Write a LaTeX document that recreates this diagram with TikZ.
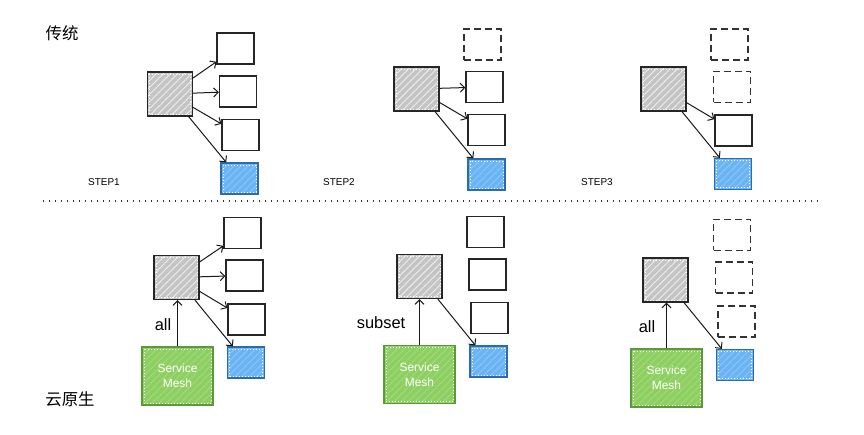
\documentclass[tikz,border=0pt]{standalone}
\usepackage{fontspec}
\setmainfont{Liberation Sans}
\newfontfamily\cjk{Noto Sans CJK SC}
\usetikzlibrary{patterns.meta,arrows.meta}

\definecolor{srvgray}{HTML}{C4C4C4}
\definecolor{tgtblue}{HTML}{6AB4F4}
\definecolor{tgtline}{HTML}{2D6CAB}
\definecolor{meshgreen}{HTML}{8DCF60}
\definecolor{meshline}{HTML}{5B9A3A}

\tikzset{
  hatch/.style={pattern={Lines[angle=45,distance=5bp,line width=0.9bp]}, pattern color=#1},
  rim/.style={path picture={\draw [white, line width=0.8bp, dash pattern=on 1bp off 2bp]
    ([shift={(2bp,-2bp)}]path picture bounding box.north west) rectangle
    ([shift={(-2bp,2bp)}]path picture bounding box.south east);}},
  srv/.style={draw=black!85, line width=1.3bp, preaction={fill=srvgray}, hatch=black!7, rim,
    minimum width=45bp, minimum height=44bp, inner sep=0pt},
  inst/.style={draw=black!85, line width=1.3bp, fill=white,
    minimum width=37bp, minimum height=31bp, inner sep=0pt},
  gone/.style={inst, draw=black!80, dash pattern=on 7bp off 4bp},
  tgt/.style={draw=tgtline, line width=1.3bp, preaction={fill=tgtblue}, hatch=white!22!tgtblue, rim,
    minimum width=37bp, minimum height=31bp, inner sep=0pt},
  mesh/.style={draw=meshline, line width=1.3bp, preaction={fill=meshgreen}, hatch=white!20!meshgreen, rim,
    minimum width=71bp, minimum height=58bp, inner sep=0pt, text=white, align=center,
    font=\fontsize{12}{15}\selectfont},
  call/.style={-{Straight Barb[length=4.5bp,width=9bp,line width=1bp]}, line width=1bp, black!90},
  steplbl/.style={font=\fontsize{10}{12}\selectfont},
  edgelbl/.style={font=\fontsize{16.5}{19}\selectfont},
  rowlbl/.style={font=\cjk\fontsize{16.5}{19}\selectfont}
}

\begin{document}
\begin{tikzpicture}[x=1bp,y=1bp]
\useasboundingbox (0,0) rectangle (864,-435);
% row titles
\node [rowlbl] (trad) at (62,-33) {传统};
\node [rowlbl] (cloud) at (70,-399) {云原生};
% separator
\draw [black!80, line width=1.3bp, dash pattern=on 1.3bp off 4.7bp] (43,-201) -- (822,-201);

% top row, step 1
\node [srv] (g1) at (170,-94) {};
\node [inst] (a1) at (235.5,-48.5) {};
\node [inst] (a2) at (238,-91.5) {};
\node [inst] (a3) at (240.5,-135) {};
\node [tgt] (b1) at (239.5,-178.5) {};
\node [steplbl] (s1) at (104,-182) {STEP1};
\draw [call] (g1) -- (a1);
\draw [call] (g1) -- (a2);
\draw [call] (g1) -- (a3);
\draw [call] (g1) -- (b1);

% top row, step 2
\node [srv] (g2) at (416.5,-89) {};
\node [gone] (c1) at (482.5,-44.5) {};
\node [inst] (c2) at (484.5,-87) {};
\node [inst] (c3) at (486.5,-130) {};
\node [tgt] (b2) at (486.5,-174.5) {};
\node [steplbl] (s2) at (339,-182) {STEP2};
\draw [call] (g2) -- (c2);
\draw [call] (g2) -- (c3);
\draw [call] (g2) -- (b2);

% top row, step 3
\node [srv] (g3) at (663.5,-89) {};
\node [gone] (d1) at (729.5,-44.5) {};
\node [gone] (d2) at (732,-87) {};
\node [inst] (d3) at (733.5,-130.5) {};
\node [tgt] (b3) at (733,-174) {};
\node [steplbl] (s3) at (597,-182) {STEP3};
\draw [call] (g3) -- (d3);
\draw [call] (g3) -- (b3);

% bottom row, all
\node [srv] (g4) at (176.5,-277.5) {};
\node [inst] (e1) at (242.5,-233) {};
\node [inst] (e2) at (244.5,-275.5) {};
\node [inst] (e3) at (246.5,-319.5) {};
\node [tgt] (b4) at (246,-362.5) {};
\node [mesh] (m1) at (177.5,-376) {Service\\Mesh};
\draw [call] (m1.north) -- (m1.north |- g4.south);
\node [edgelbl] (l1) at (163,-325) {all};
\draw [call] (g4) -- (e1);
\draw [call] (g4) -- (e2);
\draw [call] (g4) -- (e3);
\draw [call] (g4) -- (b4);

% bottom row, subset
\node [srv] (g5) at (419.5,-276.5) {};
\node [inst] (f1) at (485.5,-232) {};
\node [inst] (f2) at (487.5,-274.5) {};
\node [inst] (f3) at (489.5,-318) {};
\node [tgt] (b5) at (488.5,-361.5) {};
\node [mesh] (m2) at (419.5,-374.5) {Service\\Mesh};
\draw [call] (m2.north) -- (m2.north |- g5.south);
\node [edgelbl] (l2) at (381,-323) {subset};
\draw [call] (g5) -- (b5);

% bottom row, all again
\node [srv] (g6) at (665.5,-280) {};
\node [gone] (h1) at (732,-235) {};
\node [gone] (h2) at (734,-277.5) {};
\node [gone] (h3) at (736.5,-321.5) {};
\node [tgt] (b6) at (735,-365) {};
\node [mesh] (m3) at (666.5,-378) {Service\\Mesh};
\draw [call] (m3.north) -- (m3.north |- g6.south);
\node [edgelbl] (l3) at (647,-327) {all};
\draw [call] (g6) -- (b6);
\end{tikzpicture}
\end{document}
